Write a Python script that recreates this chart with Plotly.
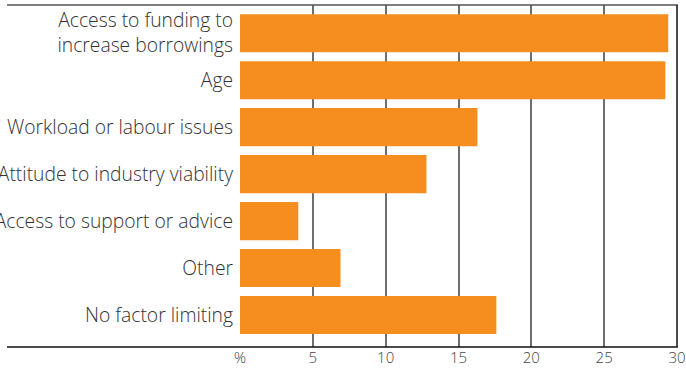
import plotly.graph_objects as go

categories = [
    "Access to funding to<br>increase borrowings",
    "Age",
    "Workload or labour issues",
    "Attitude to industry viability",
    "Access to support or advice",
    "Other",
    "No factor limiting",
]
values = [29.4, 29.2, 16.3, 12.8, 4.0, 6.9, 17.6]
tick_vals = [0, 5, 10, 15, 20, 25, 30]
tick_text = ["%", "5", "10", "15", "20", "25", "30"]

positions = list(range(len(categories)))[::-1]
FAMILY = "Open Sans, sans-serif"

fig = go.Figure(
    go.Bar(
        x=values,
        y=positions,
        orientation="h",
        marker=dict(color="#F68D1F", line=dict(width=0)),
        width=0.81,
        hoverinfo="x",
    )
)

# plot-area bounds in pixels
W, H = 686, 368
ml, mr, mt, mb = 240, 9, 5, 21
left_px = 7
x_paper_left = (left_px - ml) / (W - ml - mr)

fig.update_layout(
    width=W,
    height=H,
    margin=dict(l=ml, r=mr, t=mt, b=mb),
    paper_bgcolor="white",
    plot_bgcolor="white",
    showlegend=False,
    font=dict(family=FAMILY, color="#333333", size=15),
    xaxis=dict(
        range=[0, 30],
        tickvals=tick_vals,
        ticktext=tick_text,
        showgrid=True,
        gridcolor="#6e6e6e",
        gridwidth=1.5,
        zeroline=False,
        showline=False,
        ticks="",
        ticklabelstandoff=0,
        tickfont=dict(family=FAMILY, size=15, color="#444444", weight=300),
        automargin=False,
        fixedrange=True,
    ),
    yaxis=dict(
        range=[-0.68, 6.6],
        tickvals=positions,
        ticktext=categories,
        showgrid=False,
        zeroline=False,
        showline=False,
        ticks="",
        ticklabelstandoff=6,
        tickfont=dict(family=FAMILY, size=19.3, color="#333333", weight=300),
        automargin=False,
        fixedrange=True,
    ),
    shapes=[
        # top rule
        dict(type="line", xref="paper", yref="paper",
             x0=x_paper_left, x1=1.002, y0=1, y1=1,
             line=dict(color="#555555", width=1.5)),
        # bottom axis rule
        dict(type="line", xref="paper", yref="paper",
             x0=x_paper_left, x1=1.002, y0=0, y1=0,
             line=dict(color="#111111", width=1.5)),
        # right frame
        dict(type="line", xref="paper", yref="paper",
             x0=1, x1=1, y0=0, y1=1,
             line=dict(color="#111111", width=1.5)),
    ],
)

fig.write_html("out.html")
